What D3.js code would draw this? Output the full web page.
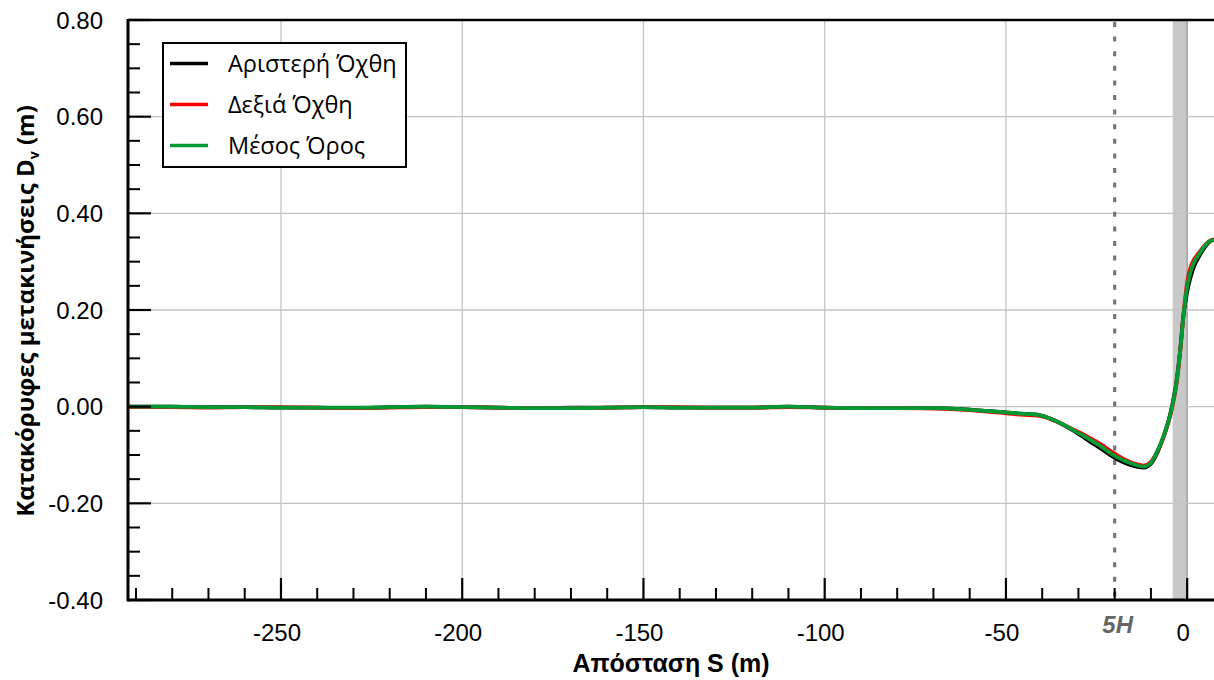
<!DOCTYPE html>
<html><head><meta charset="utf-8">
<script src="https://cdn.jsdelivr.net/npm/d3@7"></script>
<style>body{margin:0;background:#fff}svg{display:block}</style>
</head><body>
<svg id="c" width="1214" height="680"></svg>
<script>
// ---- data ----
const distance = [-292,-280,-270,-260,-250,-240,-230,-220,-210,-200,-190,-180,-170,-160,-150,-140,-130,-120,-110,-100,-90,-80,-70,-65,-60,-55,-50,-45,-42,-40,-36,-32,-28,-24,-20,-17,-14,-12,-10,-8,-6,-5,-4,-3,-2,-1,0,1,2,3,4,5,6,7.4];
const leftBank  = [0.000,0.000,-0.001,-0.001,-0.002,-0.002,-0.003,-0.001,0.000,-0.001,-0.002,-0.003,-0.002,-0.002,-0.001,-0.002,-0.002,-0.002,0.000,-0.002,-0.003,-0.003,-0.003,-0.004,-0.006,-0.009,-0.012,-0.015,-0.016,-0.019,-0.031,-0.047,-0.066,-0.086,-0.106,-0.117,-0.124,-0.126,-0.118,-0.091,-0.050,-0.025,0.008,0.050,0.112,0.190,0.238,0.270,0.292,0.307,0.320,0.331,0.340,0.346];
const rightBank = [-0.001,-0.001,-0.002,-0.001,-0.001,-0.002,-0.003,-0.002,-0.001,-0.001,-0.002,-0.003,-0.003,-0.002,-0.001,-0.001,-0.002,-0.002,-0.001,-0.002,-0.003,-0.003,-0.004,-0.005,-0.007,-0.010,-0.014,-0.017,-0.018,-0.020,-0.030,-0.045,-0.060,-0.077,-0.097,-0.110,-0.119,-0.122,-0.114,-0.089,-0.052,-0.028,0.003,0.044,0.108,0.192,0.258,0.290,0.306,0.316,0.326,0.335,0.342,0.346];
const meanValue = [0.000,0.000,-0.001,-0.001,-0.002,-0.002,-0.002,-0.001,0.000,-0.001,-0.002,-0.003,-0.003,-0.002,-0.001,-0.002,-0.002,-0.002,0.000,-0.002,-0.003,-0.003,-0.003,-0.004,-0.006,-0.009,-0.012,-0.015,-0.016,-0.019,-0.030,-0.046,-0.063,-0.081,-0.102,-0.113,-0.121,-0.124,-0.116,-0.088,-0.050,-0.026,0.006,0.047,0.110,0.190,0.248,0.281,0.300,0.312,0.324,0.334,0.341,0.346];
const xMajorTicks = [-250,-200,-150,-100,-50,0];
const xTickLabels = ["-250","-200","-150","-100","-50","0"];
const yMajorTicks = [-0.4,-0.2,0,0.2,0.4,0.6,0.8];
const yTickLabels = ["-0.40","-0.20","0.00","0.20","0.40","0.60","0.80"];
const seriesNames = ["Αριστερή Όχθη","Δεξιά Όχθη","Μέσος Όρος"];
const seriesColors = ["#000000","#ff0000","#009933"];
const bandRange = [-4, 0];
const markerX = -20, markerLabel = "5H";

// ---- layout ----
const svg = d3.select("#c");
const L = 128, R = 1214, T = 20, B = 600;
const x = d3.scaleLinear().domain([-292.2, 7.4]).range([L, R]);
const y = d3.scaleLinear().domain([-0.4, 0.8]).range([B, T]);

// band
svg.append("rect").attr("x", x(bandRange[0])).attr("y", T)
  .attr("width", x(bandRange[1]) - x(bandRange[0])).attr("height", B - T).attr("fill", "#c8c8c8");

// grid
svg.append("g").selectAll("line").data(xMajorTicks).join("line")
  .attr("x1", d => x(d)).attr("x2", d => x(d)).attr("y1", T).attr("y2", B)
  .attr("stroke", d => d === 0 ? "#999" : "#c4c4c4").attr("stroke-width", 1.3);
svg.append("g").selectAll("line").data(yMajorTicks.filter(v => v > -0.4 && v < 0.8)).join("line")
  .attr("x1", L).attr("x2", R).attr("y1", d => y(d)).attr("y2", d => y(d))
  .attr("stroke", "#c4c4c4").attr("stroke-width", 1.3);

// 5H marker
svg.append("line").attr("x1", x(markerX)).attr("x2", x(markerX)).attr("y1", T + 2).attr("y2", B)
  .attr("stroke", "#777").attr("stroke-width", 3.2).attr("stroke-dasharray", "5,9.6");

// lines
const series = [leftBank, rightBank, meanValue];
const lineGen = d3.line().curve(d3.curveMonotoneX);
series.forEach((vals, i) => {
  svg.append("path").datum(distance.map((d, j) => [x(d), y(vals[j])]))
    .attr("d", lineGen).attr("fill", "none").attr("stroke", seriesColors[i])
    .attr("stroke-width", 3.8).attr("stroke-linejoin", "round");
});

// axes
const xMinor = d3.range(-290, 8, 10).filter(v => v % 50 !== 0);
const xAxis = svg.append("g");
xAxis.selectAll(".mj").data(xMajorTicks).join("line")
  .attr("x1", d => x(d)).attr("x2", d => x(d)).attr("y1", B).attr("y2", B - 22)
  .attr("stroke", "#000").attr("stroke-width", 2.2);
xAxis.selectAll(".mn").data(xMinor).join("line")
  .attr("x1", d => x(d)).attr("x2", d => x(d)).attr("y1", B).attr("y2", B - 12)
  .attr("stroke", "#000").attr("stroke-width", 2);
xAxis.selectAll("text").data(xMajorTicks).join("text")
  .attr("x", d => x(d) - 4).attr("y", 641).attr("text-anchor", "middle")
  .attr("font-family", "Liberation Sans, Arial, sans-serif").attr("font-size", 24)
  .text((d, i) => xTickLabels[i]);

const yMinor = d3.range(-0.35, 0.8, 0.05).filter(v => Math.abs(Math.round(v * 20) % 4) !== 0);
const yAxis = svg.append("g");
yAxis.selectAll(".mj").data(yMajorTicks).join("line")
  .attr("x1", L).attr("x2", L + 23).attr("y1", d => y(d)).attr("y2", d => y(d))
  .attr("stroke", "#000").attr("stroke-width", 2.2);
yAxis.selectAll(".mn").data(yMinor).join("line")
  .attr("x1", L).attr("x2", L + 12).attr("y1", d => y(d)).attr("y2", d => y(d))
  .attr("stroke", "#000").attr("stroke-width", 2);
yAxis.selectAll("text").data(yMajorTicks).join("text")
  .attr("x", 103).attr("y", d => y(d) + 8.5).attr("text-anchor", "end")
  .attr("font-family", "Liberation Sans, Arial, sans-serif").attr("font-size", 24)
  .text((d, i) => yTickLabels[i]);

// frame lines
svg.append("line").attr("x1", L).attr("x2", R).attr("y1", T).attr("y2", T).attr("stroke", "#000").attr("stroke-width", 2.5);
svg.append("line").attr("x1", L).attr("x2", R).attr("y1", B).attr("y2", B).attr("stroke", "#000").attr("stroke-width", 3);
svg.append("line").attr("x1", L).attr("x2", L).attr("y1", T - 1).attr("y2", B + 1.5).attr("stroke", "#000").attr("stroke-width", 3);

// 5H label
svg.append("text").attr("x", x(markerX) + 3).attr("y", 633).attr("text-anchor", "middle")
  .attr("font-family", "Liberation Sans, Arial, sans-serif").attr("font-size", 24)
  .attr("font-weight", "bold").attr("font-style", "italic").attr("fill", "#666").text(markerLabel);

// axis titles
svg.append("text").attr("x", 671).attr("y", 672).attr("text-anchor", "middle")
  .attr("font-family", "Liberation Sans, Arial, sans-serif").attr("font-size", 25).attr("font-weight", "bold")
  .text("Απόσταση S (m)");
const yt = svg.append("text").attr("transform", "translate(34,311) rotate(-90)").attr("text-anchor", "middle")
  .attr("font-family", "Open Sans, sans-serif").attr("font-size", 24).attr("font-weight", "bold");
yt.append("tspan").text("Κατακόρυφες μετακινήσεις D");
yt.append("tspan").attr("font-size", 14).attr("dy", 5).text("v");
yt.append("tspan").attr("dy", -5).text(" (m)");

// legend
const lg = svg.append("g");
lg.append("rect").attr("x", 163).attr("y", 43).attr("width", 243).attr("height", 124)
  .attr("fill", "#fff").attr("stroke", "#000").attr("stroke-width", 2);
seriesNames.forEach((n, i) => {
  const yy = 63.5 + i * 41;
  lg.append("line").attr("x1", 170).attr("x2", 208).attr("y1", yy).attr("y2", yy)
    .attr("stroke", seriesColors[i]).attr("stroke-width", 3.5);
  lg.append("text").attr("x", 228).attr("y", yy + 8.5).attr("font-family", "Open Sans, sans-serif")
    .attr("font-size", 23.5).text(n);
});
</script>
</body></html>
